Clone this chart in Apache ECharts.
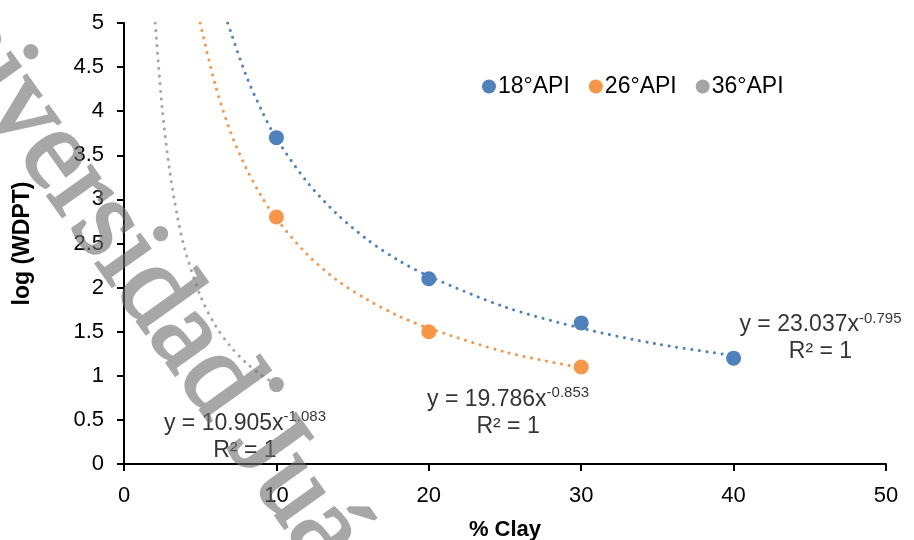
<!DOCTYPE html>
<html>
<head>
<meta charset="utf-8">
<script src="https://cdn.jsdelivr.net/npm/echarts@6/dist/echarts.min.js"></script>
<style>html,body{margin:0;padding:0;background:#fff;}#c{width:914px;height:540px;}</style>
</head>
<body>
<div id="c"></div>
<script>
// ---- data ----
var seriesNames = ['18°API', '26°API', '36°API'];
var clay18 = [10, 20, 30, 40];
var wdpt18 = [3.7, 2.1, 1.6, 1.2];
var clay26 = [10, 20, 30];
var wdpt26 = [2.8, 1.5, 1.1];
var clay36 = [10];
var wdpt36 = [0.9];
// trendline points
var trendX18 = [6.8, 7, 8, 9, 10, 12, 14, 16, 18, 20, 25, 30, 35, 40];
var trendY18 = [5.0, 4.9, 4.41, 4.02, 3.69, 3.2, 2.83, 2.54, 2.31, 2.13, 1.78, 1.54, 1.36, 1.23];
var trendX26 = [5, 6, 7, 8, 9, 10, 12, 14, 16, 18, 20, 25, 30];
var trendY26 = [5.0, 4.29, 3.76, 3.36, 3.04, 2.78, 2.38, 2.08, 1.86, 1.68, 1.54, 1.27, 1.09];
var trendX36 = [2.05, 2.5, 3, 3.5, 4, 5, 6, 7, 8, 9, 10];
var trendY36 = [5.0, 4.04, 3.32, 2.81, 2.43, 1.91, 1.57, 1.33, 1.15, 1.01, 0.9];
var equations = ['y = 23.037x', 'y = 19.786x', 'y = 10.905x'];
var exponents = ['-0.795', '-0.853', '-1.083'];
var r2Text = ['R² = 1', 'R² = 1', 'R² = 1'];
var labelAnchorX = [45.7, 25.2, 7.94];
var labelAnchorY = [1.43, 0.58, 0.31];
var xTicks = [0, 10, 20, 30, 40, 50];
var yTicks = [0, 0.5, 1, 1.5, 2, 2.5, 3, 3.5, 4, 4.5, 5];
var xTitle = '% Clay';
var yTitle = 'log (WDPT)';
var watermark = 'Universidad Juárez Autónoma de Tabasco';

var colors = ['#4F81BD', '#F79646', '#A5A5A5'];
var FONT = '"Liberation Sans", Arial, sans-serif';

function zip(a, b) { return a.map(function (v, i) { return [v, b[i]]; }); }

var chart = echarts.init(document.getElementById('c'), null, { renderer: 'canvas' });

var trendSets = [[trendX18, trendY18], [trendX26, trendY26], [trendX36, trendY36]];
var pointSets = [[clay18, wdpt18], [clay26, wdpt26], [clay36, wdpt36]];

var series = [];
trendSets.forEach(function (t, i) {
  series.push({
    type: 'line', name: seriesNames[i] + ' trend', data: zip(t[0], t[1]),
    smooth: 0.3, showSymbol: false, symbol: 'none', silent: true, z: 2,
    lineStyle: { color: colors[i], width: 3, type: [0.1, 7.5], cap: 'round' }
  });
});
pointSets.forEach(function (p, i) {
  series.push({
    type: 'scatter', name: seriesNames[i], data: zip(p[0], p[1]),
    symbol: 'circle', symbolSize: 15, z: 3,
    itemStyle: { color: colors[i], opacity: 1 }
  });
});
series.push({
  type: 'scatter', name: 'eq', silent: true, symbolSize: 0, z: 4,
  data: labelAnchorX.map(function (x, i) {
    return {
      value: [x, labelAnchorY[i]],
      label: {
        show: true, position: 'inside',
        formatter: '{a|' + equations[i] + '}{b|' + exponents[i] + '}\n{a|' + r2Text[i] + '}'
      }
    };
  }),
  label: {
    show: true, align: 'center', verticalAlign: 'middle',
    rich: {
      a: { fontFamily: FONT, fontSize: 23, color: '#000', lineHeight: 27 },
      b: { fontFamily: FONT, fontSize: 15, color: '#000', lineHeight: 15, verticalAlign: 'top' }
    }
  }
});

chart.setOption({
  animation: false,
  backgroundColor: '#fff',
  textStyle: { fontFamily: FONT },
  color: colors,
  grid: { left: 124, right: 28, top: 23, bottom: 76, containLabel: false, outerBoundsMode: 'none' },
  legend: {
    data: seriesNames, left: 477, top: 70, icon: 'circle',
    itemWidth: 14, itemHeight: 14, itemGap: 19,
    textStyle: { fontFamily: FONT, fontSize: 23, color: '#000', padding: [0, 0, 0, -3] }
  },
  xAxis: {
    type: 'value', min: xTicks[0], max: xTicks[xTicks.length - 1], interval: 10,
    name: xTitle, nameLocation: 'middle', nameGap: 55,
    nameTextStyle: { fontFamily: FONT, fontSize: 22, fontWeight: 'bold', color: '#000' },
    axisLine: { show: true, lineStyle: { color: '#000', width: 2 } },
    axisTick: { show: true, length: 7, lineStyle: { color: '#000', width: 2 } },
    axisLabel: { fontFamily: FONT, fontSize: 22, color: '#000', margin: 21 },
    splitLine: { show: false }
  },
  yAxis: {
    type: 'value', min: yTicks[0], max: yTicks[yTicks.length - 1], interval: 0.5,
    name: yTitle, nameLocation: 'middle', nameGap: 90, nameRotate: 90,
    nameTextStyle: { fontFamily: FONT, fontSize: 23, fontWeight: 'bold', color: '#000' },
    axisLine: { show: true, lineStyle: { color: '#000', width: 2 } },
    axisTick: { show: true, length: 7, lineStyle: { color: '#000', width: 2 } },
    axisLabel: { fontFamily: FONT, fontSize: 22, color: '#000', margin: 20 },
    splitLine: { show: false }
  },
  graphic: [{
    type: 'text', x: -92, y: -52, rotation: -54.5 * Math.PI / 180, zlevel: 1, z: 100, silent: true,
    style: {
      text: watermark, font: '115px "Liberation Serif", "Times New Roman", serif',
      fill: '#6e6e6e', stroke: '#6e6e6e', lineWidth: 3,
      textAlign: 'left', textVerticalAlign: 'middle'
    }
  }],
  series: series
});

// make the watermark layer uniformly translucent
try {
  var layer = chart.getZr().painter.getLayer(1);
  if (layer && layer.dom) layer.dom.style.opacity = '0.6';
} catch (e) {}
</script>
</body>
</html>
